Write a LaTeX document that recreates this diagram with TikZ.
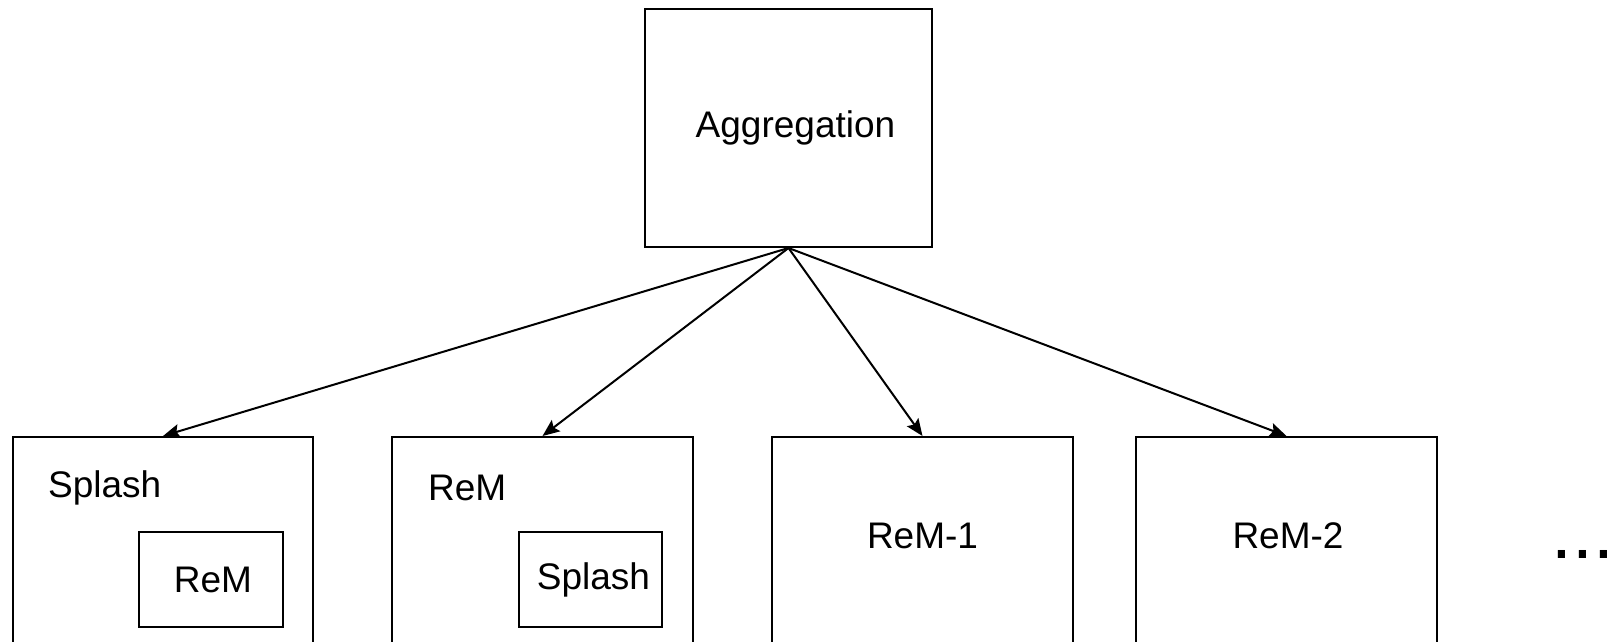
\documentclass[tikz,border=0pt]{standalone}
\usepackage{fontspec}
\setmainfont{Liberation Sans}
\usetikzlibrary{arrows.meta}

\begin{document}
\begin{tikzpicture}[x=1pt,y=-1pt,
  box/.style={draw, line width=2pt, minimum width=#1, inner sep=0pt},
  lbl/.style={inner sep=0pt, font=\fontsize{37}{44}\selectfont},
  feed/.style={line width=2pt, -{Stealth[length=17pt,width=14pt,inset=3pt]}}]

\useasboundingbox (0,0) rectangle (1612,641);
\clip (0,0) rectangle (1612,641);

% top box
\node [box=287pt, minimum height=238pt, lbl] (agg) at (788.5,128) {\hspace{14pt}Aggregation};

% lower boxes, cut off by the page edge
\node [box=300pt, minimum height=300pt] (splash) at (163,587) {};
\node [box=301pt, minimum height=300pt] (rem) at (542.5,587) {};
\node [box=301pt, minimum height=300pt] (rem1) at (922.5,587) {};
\node [box=301pt, minimum height=300pt] (rem2) at (1286.5,587) {};

\node [lbl, anchor=west] (splashname) at (48,488) {Splash};
\node [lbl, anchor=west] (remname) at (428,488) {ReM};
\node [lbl] (rem1name) at (922.5,536) {ReM-1};
\node [lbl] (rem2name) at (1288,536) {ReM-2};

% nested boxes
\node [box=144pt, minimum height=95pt, lbl] (inrem) at (211,579.5) {\hspace{4pt}ReM};
\node [box=143pt, minimum height=95pt, lbl] (insplash) at (590.5,579.5) {\hspace{6pt}Splash};

\node [inner sep=0pt, anchor=base, font=\fontsize{75}{90}\selectfont] (more) at (1583,558) {...};

\draw [feed] (agg.south) -- (splash.north);
\draw [feed] (agg.south) -- (rem.north);
\draw [feed] (agg.south) -- (rem1.north);
\draw [feed] (agg.south) -- (rem2.north);

\end{tikzpicture}
\end{document}
